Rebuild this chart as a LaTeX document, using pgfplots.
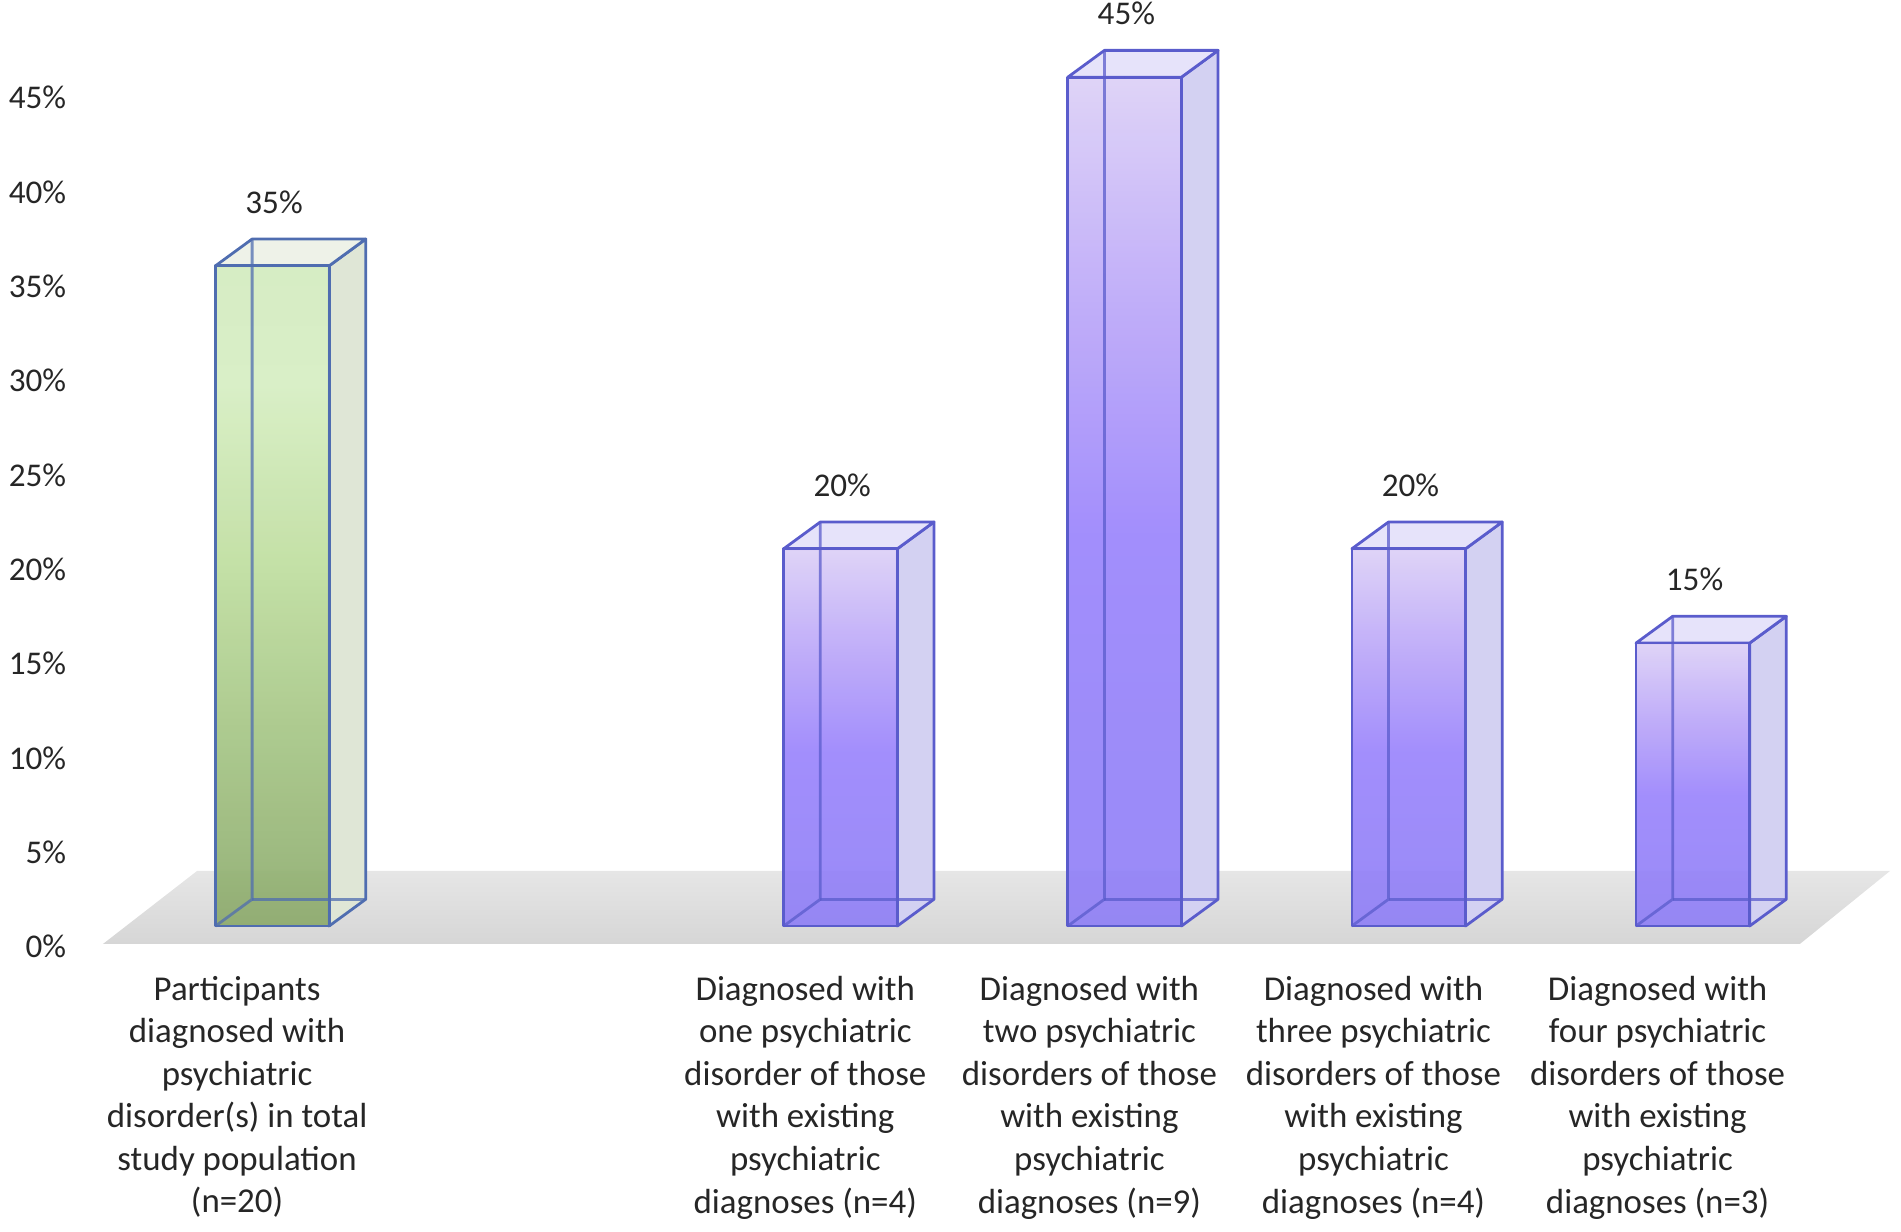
\documentclass[border=0pt]{standalone}
\usepackage{fontspec}
\setmainfont{Carlito}
\usepackage{pgfplots}
\usepackage{pgfplotstable}
\pgfplotsset{compat=1.18}

\definecolor{pTop}{HTML}{DCD0F6}
\definecolor{pUp}{HTML}{BCA8F8}
\definecolor{pMid}{HTML}{9A84FC}
\definecolor{pBot}{HTML}{9080F6}
\definecolor{pSide}{HTML}{D3D1F2}
\definecolor{pTopFace}{HTML}{E6E3FA}
\definecolor{pEdge}{HTML}{5A5CCC}
\definecolor{gTop}{HTML}{D3EBBF}
\definecolor{gUp}{HTML}{D6EEC2}
\definecolor{gMid}{HTML}{BEDD9E}
\definecolor{gLow}{HTML}{A6C686}
\definecolor{gBot}{HTML}{8CAA6C}
\definecolor{gSide}{HTML}{DFE6D6}
\definecolor{gTopFace}{HTML}{EEF2E8}
\definecolor{gEdge}{HTML}{4F6DB0}
\definecolor{floorA}{HTML}{E6E6E6}
\definecolor{floorB}{HTML}{D6D6D6}

\pgfdeclareverticalshading{pfront}{100bp}{color(0bp)=(pBot); color(25bp)=(pBot); color(48bp)=(pMid); color(62bp)=(pUp); color(75bp)=(pTop); color(100bp)=(pTop)}
\pgfdeclareverticalshading{gfront}{100bp}{color(0bp)=(gBot); color(25bp)=(gBot); color(40bp)=(gLow); color(52bp)=(gMid); color(66bp)=(gUp); color(75bp)=(gTop); color(100bp)=(gTop)}

\pgfplotstableread{
xc v
0 35
2 20
3 45
4 20
5 15
}\bardata

\def\bhw{0.2}
\def\bdx{0.129}
\def\bdy{1.42}

\pgfplotsset{
  g side/.style={draw=gEdge, line width=0.8pt, fill=gSide, line join=round},
  g top/.style={draw=gEdge, line width=0.8pt, fill=gTopFace, line join=round},
  g front/.style={draw=gEdge, line width=0.8pt, shading=gfront, line join=round},
  g hidden/.style={draw=gEdge, line width=0.8pt, draw opacity=0.75},
  p side/.style={draw=pEdge, line width=0.8pt, fill=pSide, line join=round},
  p top/.style={draw=pEdge, line width=0.8pt, fill=pTopFace, line join=round},
  p front/.style={draw=pEdge, line width=0.8pt, shading=pfront, line join=round},
  p hidden/.style={draw=pEdge, line width=0.8pt, draw opacity=0.75},
}

\begin{document}
\begin{tikzpicture}
\useasboundingbox (0,0) rectangle (545pt,353.2pt);
\begin{axis}[
  at={(29.2pt,76.9pt)}, anchor=south west, scale only axis,
  width=517.2pt, height=270.4pt,
  xmin=-0.6, xmax=5.75, ymin=-2, ymax=48,
  clip=false,
  axis line style={draw=none},
  major tick length=0pt,
  xtick={0,2,3,4,5},
  xticklabels={{Participants\\diagnosed with\\psychiatric\\disorder(s) in total\\study population\\(n=20)},
    {Diagnosed with\\one psychiatric\\disorder of those\\with existing\\psychiatric\\diagnoses (n=4)},
    {Diagnosed with\\two psychiatric\\disorders of those\\with existing\\psychiatric\\diagnoses (n=9)},
    {Diagnosed with\\three psychiatric\\disorders of those\\with existing\\psychiatric\\diagnoses (n=4)},
    {Diagnosed with\\four psychiatric\\disorders of those\\with existing\\psychiatric\\diagnoses (n=3)}},
  xticklabel style={align=center, xshift=-10.1pt, font=\fontsize{10}{12.2}\selectfont, text=black!85},
  ytick={0,5,...,45},
  yticklabel={\pgfmathprintnumber{\tick}\%},
  yticklabel style={xshift=-6.7pt, yshift=-5.9pt, font=\fontsize{9.5}{11}\selectfont, text=black!85},
  /pgf/number format/assume math mode=true,
]
% floor
\addplot[draw=none, top color=floorA, bottom color=floorB, forget plot]
  coordinates {(-0.596,-0.95) (5.377,-0.95) (5.695,2.93) (-0.264,2.93)} -- cycle;

\pgfplotsinvokeforeach{0,...,4}{%
  \pgfplotstablegetelem{#1}{xc}\of\bardata \let\bxc\pgfplotsretval
  \pgfplotstablegetelem{#1}{v}\of\bardata \let\bv\pgfplotsretval
  \pgfmathsetmacro\xL{\bxc-\bhw}%
  \pgfmathsetmacro\xR{\bxc+\bhw}%
  \pgfmathsetmacro\xLb{\xL+\bdx}%
  \pgfmathsetmacro\xRb{\xR+\bdx}%
  \pgfmathsetmacro\vb{\bv+\bdy}%
  \ifnum#1=0 \def\sty{g}\else\def\sty{p}\fi
  \edef\doplots{%
    \noexpand\addplot[\sty\space side, forget plot] coordinates {(\xR,0) (\xRb,\bdy) (\xRb,\vb) (\xR,\bv)} -- cycle;
    \noexpand\addplot[\sty\space top, forget plot] coordinates {(\xL,\bv) (\xR,\bv) (\xRb,\vb) (\xLb,\vb)} -- cycle;
    \noexpand\addplot[\sty\space front, forget plot, fill opacity=0.92] coordinates {(\xL,0) (\xR,0) (\xR,\bv) (\xL,\bv)} -- cycle;
    \noexpand\addplot[\sty\space hidden, forget plot] coordinates {(\xL,0) (\xLb,\bdy) (\xLb,\vb)};
    \noexpand\addplot[\sty\space hidden, forget plot] coordinates {(\xLb,\bdy) (\xRb,\bdy)};
  }%
  \doplots
}

\addplot[only marks, mark=*, mark size=0pt,
  scatter/use mapped color={draw=none, fill=none},
  mark options={draw=none, fill=none},
  nodes near coords={\pgfmathprintnumber{\pgfplotspointmeta}\%},
  nodes near coords style={anchor=center, yshift=18.2pt, xshift=0.5pt, font=\fontsize{9.5}{11}\selectfont, text=black!85}]
  table[x=xc, y=v] {\bardata};
\end{axis}
\end{tikzpicture}
\end{document}
